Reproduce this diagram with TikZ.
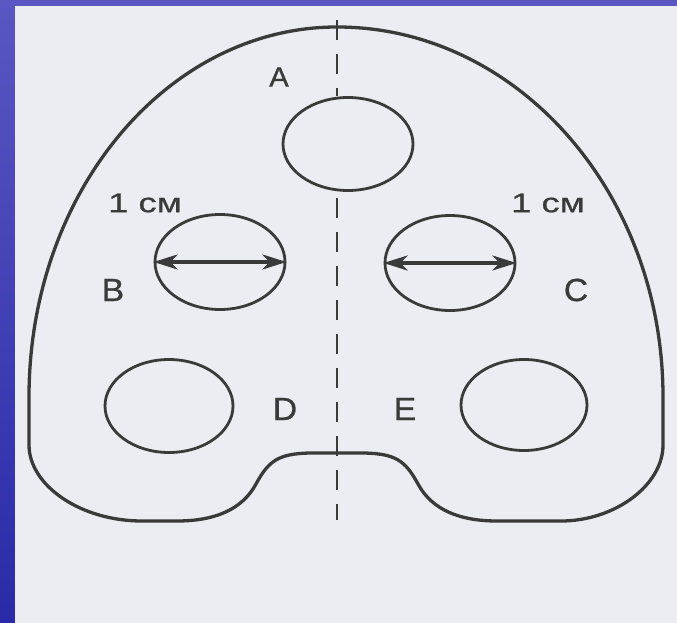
\documentclass[tikz,border=0pt]{standalone}
\usepackage{fontspec}
\usepackage{tikz}
\usetikzlibrary{arrows.meta,shapes.geometric}
\usepackage{xcolor}

\newfontfamily\lblfont[FakeStretch=1.05,FakeBold=0.8]{Liberation Sans}
\newfontfamily\cmfont[FakeStretch=1.35,FakeBold=0.8]{Liberation Sans}
\definecolor{ink}{HTML}{3A3A3A}
\definecolor{paper}{HTML}{ECEDF3}
\definecolor{slidetop}{HTML}{5A56C2}
\definecolor{slidebot}{HTML}{2A2AA8}

\tikzset{
  rim/.style={draw=ink,line width=3.3pt,line join=round},
  hole/.style={ellipse,draw=ink,line width=2.8pt,inner sep=0pt},
  axis/.style={draw=ink,line width=2.6pt,dash pattern=on 20pt off 14pt,dash phase=28pt},
  span/.style={draw=ink,line width=3.2pt,{Stealth[length=24pt,width=15pt,inset=7pt]}-{Stealth[length=24pt,width=15pt,inset=7pt]}},
  lbl/.style={text=ink,inner sep=0pt,font=\lblfont\fontsize{32}{36}\selectfont},
  cmlbl/.style={text=ink,inner sep=0pt,font=\cmfont\fontsize{27}{30}\selectfont}
}

\begin{document}
\begin{tikzpicture}[x=1pt,y=-1pt]
\useasboundingbox (0,0) rectangle (677,623);

%% slide and paper
\shade[top color=slidetop,bottom color=slidebot] (0,0) rectangle (15,623);
\fill[slidetop] (15,0) rectangle (677,6);
\fill[paper] (15,6) rectangle (677,623);

%% outline
\draw[rim] (29,445) -- (29,397)
  arc[start angle=180,end angle=270,x radius=308,y radius=370]
  arc[start angle=270,end angle=360,x radius=326,y radius=370]
  -- (663,445)
  .. controls (663,485) and (615,521) .. (561,521)
  -- (497,521)
  .. controls (460,521) and (432,510) .. (418,484)
  .. controls (405,460) and (395,454) .. (365,453)
  -- (309,453)
  .. controls (279,454) and (269,460) .. (256,484)
  .. controls (242,510) and (214,521) .. (177,521)
  -- (142,521)
  .. controls (80,521) and (29,485) .. (29,445) -- cycle;

%% holes
\node[hole,minimum width=130pt,minimum height=93pt] (holeA) at (348,144) {};
\node[hole,minimum width=130pt,minimum height=95pt] (holeB) at (220,262) {};
\node[hole,minimum width=130pt,minimum height=95pt] (holeC) at (450,263) {};
\node[hole,minimum width=128pt,minimum height=93pt] (holeD) at (169,406) {};
\node[hole,minimum width=126pt,minimum height=91pt] (holeE) at (524,405) {};

%% midline
\coordinate (axtop) at (337,14);
\coordinate (axbot) at (337,520);
\draw[axis] (axtop) -- (axtop |- holeA.north);
\draw[axis] (axtop |- holeA.south) -- (axbot);

%% widths
\draw[span] (holeB.west) -- (holeB.east);
\draw[span] (holeC.west) -- (holeC.east);

%% labels
\node[lbl,font=\lblfont\fontsize{28}{32}\selectfont] (labA) at (279,77) {A};
\node[lbl] (labB) at (113,290) {B};
\node[lbl] (labC) at (576,290) {C};
\node[lbl] (labD) at (285,409) {D};
\node[lbl] (labE) at (405,409) {E};
\node[cmlbl] (cmB) at (145,203) {1 см};
\node[cmlbl] (cmC) at (548,203) {1 см};
\end{tikzpicture}
\end{document}
